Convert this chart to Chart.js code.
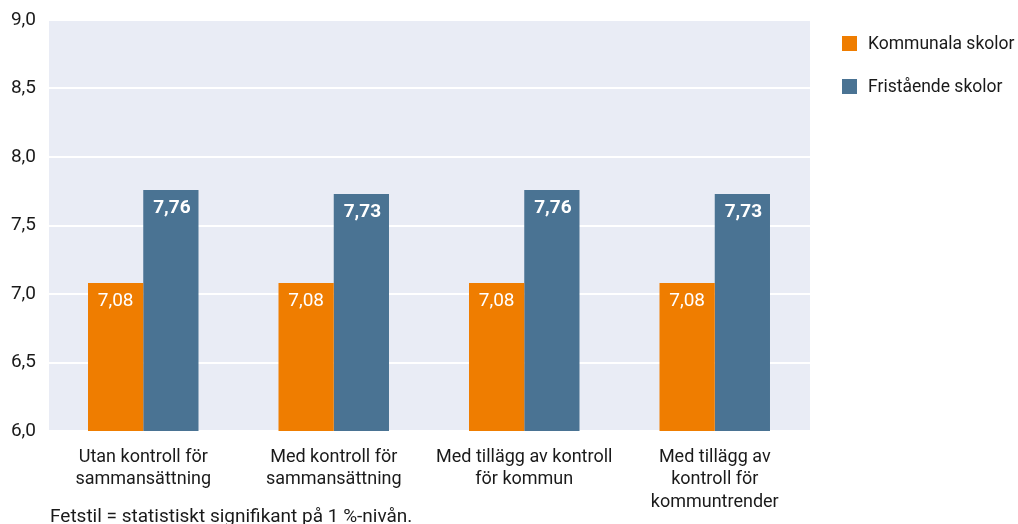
<!DOCTYPE html>
<html>
<head>
<meta charset="utf-8">
<script src="https://cdn.jsdelivr.net/npm/chart.js@4/dist/chart.umd.min.js"></script>
<style>
  html, body { margin: 0; padding: 0; background: #fff; }
  #wrap { position: relative; width: 1018px; height: 524px; }
</style>
</head>
<body>
<div id="wrap"><canvas id="graph"></canvas></div>
<script>
var categories = [
    ['Utan kontroll för', 'sammansättning'],
    ['Med kontroll för', 'sammansättning'],
    ['Med tillägg av kontroll', 'för kommun'],
    ['Med tillägg av', 'kontroll för', 'kommuntrender']
];
var kommunala = [7.08, 7.08, 7.08, 7.08];
var fristaende = [7.76, 7.73, 7.76, 7.73];
var seriesNames = ['Kommunala skolor', 'Fristående skolor'];
var footnote = 'Fetstil = statistiskt signifikant på 1 %-nivån.';

var FONT = 'Roboto, "DejaVu Sans", sans-serif';

function fmt(v) {
    return v.toFixed(2).replace('.', ',');
}

// light background behind the plot area
var plotBg = {
    id: 'plotBg',
    beforeDraw: function(chart) {
        var a = chart.chartArea, ctx = chart.ctx;
        ctx.save();
        ctx.fillStyle = '#E9ECF5';
        ctx.fillRect(a.left + 1, a.top, a.right - a.left - 1, a.bottom - a.top);
        ctx.restore();
    }
};

// value labels inside the bars, legend at the right, footnote
var extras = {
    id: 'extras',
    afterDatasetsDraw: function(chart) {
        var ctx = chart.ctx;
        ctx.save();
        ctx.fillStyle = '#fff';
        ctx.textAlign = 'center';
        ctx.textBaseline = 'middle';
        chart.data.datasets.forEach(function(ds, i) {
            var meta = chart.getDatasetMeta(i);
            ctx.font = (i === 1 ? 'bold ' : '') + '19px ' + FONT;
            meta.data.forEach(function(bar, j) {
                ctx.fillText(fmt(ds.data[j]), bar.x + (i === 1 ? 1 : 0), bar.y + 18);
            });
        });

        // legend
        var lx = chart.chartArea.right + 32;
        ctx.textAlign = 'left';
        ctx.font = '17.5px ' + FONT;
        chart.data.datasets.forEach(function(ds, i) {
            var cy = 43.5 + i * 43;
            ctx.fillStyle = ds.backgroundColor;
            ctx.fillRect(lx, cy - 7.5, 15, 15);
            ctx.fillStyle = '#1a1a1a';
            ctx.fillText(ds.label, lx + 26, cy + 1);
        });

        ctx.font = '19px ' + FONT;
        ctx.fillText(footnote, 50, 517);
        ctx.restore();
    }
};

var ctx = document.getElementById('graph');
var chart = new Chart(ctx, {
    type: 'bar',
    data: {
        labels: categories,
        datasets: [
            { label: seriesNames[0], data: kommunala, backgroundColor: '#EF7D00' },
            { label: seriesNames[1], data: fristaende, backgroundColor: '#4A7393' }
        ]
    },
    options: {
        responsive: true,
        maintainAspectRatio: false,
        animation: false,
        layout: { padding: { top: 20, bottom: 0, left: 0, right: 208 } },
        datasets: { bar: { categoryPercentage: 0.58, barPercentage: 1.0 } },
        plugins: {
            legend: { display: false },
            tooltip: { enabled: false }
        },
        scales: {
            x: {
                grid: { display: false, drawTicks: false },
                border: { display: false },
                afterFit: function(scale) {
                    scale.height = 93;
                    scale.paddingLeft = 0;
                    scale.paddingRight = 0;
                },
                ticks: {
                    color: '#1a1a1a',
                    padding: 15,
                    maxRotation: 0,
                    autoSkip: false,
                    font: { family: FONT, size: 18, lineHeight: 1.25 }
                }
            },
            y: {
                min: 6,
                max: 9,
                grid: { color: '#fff', lineWidth: 2, drawTicks: false },
                border: { display: false },
                afterFit: function(scale) {
                    scale.width = 48;
                    scale.paddingTop = 0;
                    scale.paddingBottom = 0;
                },
                ticks: {
                    stepSize: 0.5,
                    padding: 12,
                    color: '#1a1a1a',
                    font: { family: FONT, size: 19 },
                    callback: function(v) { return v.toFixed(1).replace('.', ','); }
                }
            }
        }
    },
    plugins: [plotBg, extras]
});
</script>
</body>
</html>
